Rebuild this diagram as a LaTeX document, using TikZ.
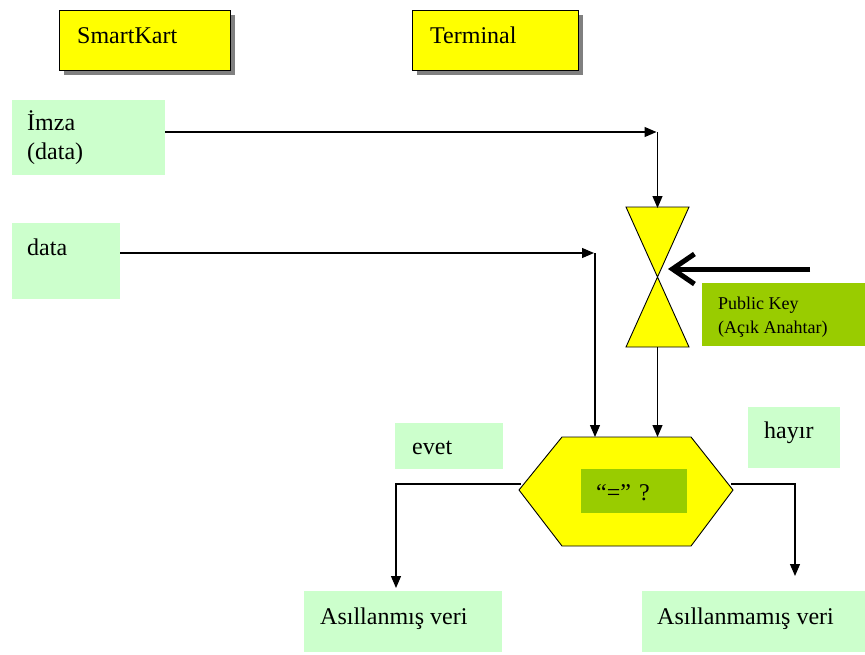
\documentclass[tikz,border=0pt]{standalone}
\usepackage{fontspec}
\setmainfont{Liberation Serif}
\usetikzlibrary{arrows.meta,shadows}

\definecolor{cardyellow}{RGB}{255,255,0}
\definecolor{palegreen}{RGB}{204,255,204}
\definecolor{keygreen}{RGB}{153,204,0}
\definecolor{shadowgray}{RGB}{128,128,128}

\tikzset{
  cardbox/.style={rectangle, draw=black, line width=1pt, fill=cardyellow, inner sep=0pt,
    drop shadow={shadow xshift=5pt, shadow yshift=-5pt, fill=shadowgray, opacity=1}},
  notebox/.style={rectangle, fill=palegreen, inner sep=0pt},
  keybox/.style={rectangle, fill=keygreen, inner sep=0pt},
  bigtext/.style={anchor=base west, inner sep=0pt, font=\fontsize{24}{29}\selectfont},
  smalltext/.style={anchor=base west, inner sep=0pt, font=\fontsize{18}{24}\selectfont},
  flow/.style={line width=1.2pt, -{Triangle[length=12pt,width=10pt]}},
  shapefill/.style={fill=cardyellow, draw=black, line width=0.9pt, line join=miter},
}

\begin{document}
\begin{tikzpicture}[x=1pt, y=-1pt]
  \useasboundingbox (0,0) rectangle (865,654);

  % header cards
  \node[cardbox, minimum width=171pt, minimum height=60pt] (smart) at (144.5,40) {};
  \node[bigtext] (smartlbl) at (77,43) {SmartKart};
  \node[cardbox, minimum width=166pt, minimum height=60pt] (term) at (495,40) {};
  \node[bigtext] (termlbl) at (430,43) {Terminal};

  % inputs
  \node[notebox, minimum width=153pt, minimum height=75pt] (imza) at (88.5,137.5) {};
  \node[bigtext] (imzalbl) at (27,130) {İmza};
  \node[bigtext] (imzalbl2) at (27,159) {(data)};
  \node[notebox, minimum width=108pt, minimum height=76pt] (data) at (66,261) {};
  \node[bigtext] (datalbl) at (27,255) {data};

  % public key
  \node[keybox, minimum width=163pt, minimum height=63pt] (pubkey) at (783.5,314.5) {};
  \node[smalltext] (pubkeylbl) at (718,309) {Public Key};
  \node[smalltext] (pubkeylbl2) at (718,333) {(Açık Anahtar)};

  % hourglass (verification)
  \coordinate (hgtop) at (657.5,207);
  \coordinate (hgmid) at (657.5,277);
  \coordinate (hgbot) at (657.5,347);
  \filldraw[shapefill] (626,207) -- (689,207) -- (hgmid) -- cycle;
  \filldraw[shapefill] (hgmid) -- (689,347) -- (626,347) -- cycle;

  % comparison hexagon
  \filldraw[shapefill] (519,490) -- (562,437) -- (691,437) -- (733,490) -- (691,546) -- (562,546) -- cycle;
  \coordinate (hexin1) at (595,437);
  \coordinate (hexin2) at (657.5,437);
  \coordinate (hexL) at (521,484);
  \coordinate (hexR) at (731,484);
  \node[keybox, minimum width=106pt, minimum height=44pt] (eq) at (634,491) {};
  \node[bigtext] (eqlbl) at (596,500) {“=”\,\,?};

  % branch labels
  \node[notebox, minimum width=108pt, minimum height=46pt] (evet) at (449,446) {};
  \node[bigtext] (evetlbl) at (412,454) {evet};
  \node[notebox, minimum width=92pt, minimum height=61pt] (hayir) at (794,437.5) {};
  \node[bigtext] (hayirlbl) at (764,438) {hayır};

  % results
  \node[notebox, minimum width=198pt, minimum height=61pt] (asil) at (403,621.5) {};
  \node[bigtext] (asillbl) at (320,624) {Asıllanmış veri};
  \node[notebox, minimum width=223pt, minimum height=61pt] (asilm) at (753.5,621.5) {};
  \node[bigtext] (asilmlbl) at (657,624) {Asıllanmamış veri};

  % signature path
  \coordinate (c1) at (657.5,132);
  \draw[flow] (imza.east |- c1) -- ([xshift=-1pt]c1);
  \draw[flow] (c1) -- ([yshift=-1pt]hgtop);

  % data path
  \coordinate (c2) at (595,253);
  \draw[flow] (data.east |- c2) -- ([xshift=-1pt]c2);
  \draw[flow] (c2) -- (hexin1);

  % hourglass to comparison
  \draw[flow] (hgbot) -- (hexin2);

  % public key arrow
  \coordinate (keytail) at (810,269);
  \coordinate (keytip) at (668,269);
  \draw[line width=5pt, -{Straight Barb[length=22pt,width=30pt,line width=5pt]}] (keytail) -- (keytip);

  % outcomes
  \coordinate (lcorner) at (396,484);
  \coordinate (rcorner) at (795,484);
  \draw[flow] (hexL) -- (lcorner) -- (lcorner |- 0,588);
  \draw[flow] (hexR) -- (rcorner) -- (rcorner |- 0,576);
\end{tikzpicture}
\end{document}
